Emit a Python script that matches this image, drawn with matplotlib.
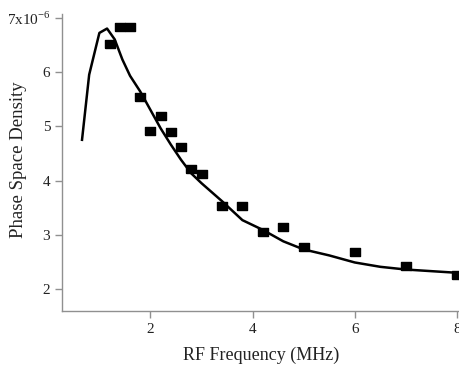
import matplotlib
matplotlib.use('Agg')
import matplotlib.pyplot as plt

plt.rcParams['font.family'] = 'Liberation Serif'
plt.rcParams['mathtext.fontset'] = 'custom'
plt.rcParams['mathtext.rm'] = 'Liberation Serif'

# measured points
freq = [1.2, 1.4, 1.6, 1.8, 2.0, 2.2, 2.4, 2.6, 2.8, 3.0, 3.4, 3.8, 4.2, 4.6, 5.0, 6.0, 7.0, 8.0]
density = [6.51, 6.82, 6.82, 5.53, 4.92, 5.18, 4.90, 4.61, 4.21, 4.12, 3.53, 3.53, 3.06, 3.15, 2.78, 2.68, 2.43, 2.25]

# model curve
fit_freq = [0.66, 0.8, 1.0, 1.15, 1.3, 1.45, 1.6, 1.8, 2.0, 2.2, 2.4, 2.6, 2.8, 3.0, 3.4, 3.8, 4.2, 4.6, 5.0, 5.5, 6.0, 6.5, 7.0, 8.0]
fit_density = [4.75, 5.95, 6.72, 6.80, 6.60, 6.23, 5.93, 5.64, 5.30, 4.96, 4.66, 4.38, 4.13, 3.95, 3.62, 3.27, 3.09, 2.88, 2.73, 2.62, 2.49, 2.41, 2.36, 2.30]

yticks = [2, 3, 4, 5, 6, 7]
yticklabels = ['2', '3', '4', '5', '6', r'7x10$^{-6}$']
xticks = [2, 4, 6, 8]

fig = plt.figure(figsize=(4.6, 3.66), dpi=100)
ax = fig.add_axes([0.135, 0.150, 0.865, 0.812])

ax.plot(fit_freq, fit_density, color='black', lw=1.8)
rect = [(-1.4, -1), (1.4, -1), (1.4, 1), (-1.4, 1), (-1.4, -1)]
ax.plot(freq, density, ls='none', marker=rect, markersize=7.5, color='black')

ax.set_xlim(0.27, 8.06)
ax.set_ylim(1.594, 7.07)
ax.set_xticks(xticks)
ax.set_yticks(yticks)
ax.set_yticklabels(yticklabels)

for s in ['top', 'right']:
    ax.spines[s].set_visible(False)
for s in ['left', 'bottom']:
    ax.spines[s].set_color('#909090')
    ax.spines[s].set_linewidth(1.0)
ax.tick_params(colors='#909090', labelcolor='#222222', labelsize=11, length=5, width=1)

ax.set_xlabel('RF Frequency (MHz)', fontsize=13, color='#222222', labelpad=8)
fig.text(19 / 460, 1 - 160 / 366, 'Phase Space Density', rotation=90, ha='center', va='center',
         fontsize=13.5, color='#222222')

fig.savefig('out.png', dpi=100)
